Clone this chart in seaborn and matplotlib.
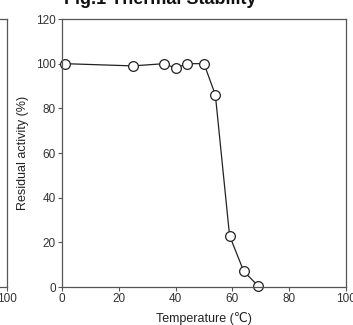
import numpy as np
import pandas as pd
import matplotlib
matplotlib.use("Agg")
import matplotlib.pyplot as plt
import seaborn as sns

# data
temperature = [1, 25, 36, 40, 44, 50, 54, 59, 64, 69]
activity = [100, 99, 100, 98, 100, 100, 86, 23, 7, 0.6]
x_ticks = [0, 20, 40, 60, 80, 100]
y_ticks = [0, 20, 40, 60, 80, 100, 120]

sns.set_style("ticks")
plt.rcParams["font.family"] = ["Liberation Sans", "DejaVu Sans"]

df = pd.DataFrame({"temperature": temperature, "activity": activity})

W, H = 353, 325
fig = plt.figure(figsize=(W / 100, H / 100), dpi=100)

# main panel
ax = fig.add_axes([62 / W, 38 / H, 284 / W, 268 / H])
# neighbouring panel, only its right edge shows
ax_left = fig.add_axes([(7 - 284) / W, 38 / H, 284 / W, 268 / H])

spine_col = "#555555"
for a in (ax, ax_left):
    a.set_xlim(0, 100)
    a.set_ylim(0, 120)
    a.set_xticks(x_ticks)
    a.set_yticks(y_ticks)
    a.tick_params(labelsize=8.5, length=3, width=0.8, color=spine_col,
                  labelcolor="#333333", pad=1.5)
    for s in a.spines.values():
        s.set_visible(True)
        s.set_color(spine_col)
        s.set_linewidth(0.9)

ax_left.set_yticklabels([])

sns.lineplot(data=df, x="temperature", y="activity", ax=ax, color="#222222",
             linewidth=0.9, marker="o", markersize=7, markerfacecolor="white",
             markeredgecolor="#222222", markeredgewidth=0.9, clip_on=False)

ax.set_xlabel("Temperature (\u2103)", fontsize=9, labelpad=5, color="#222222")
ax.set_ylabel("Residual activity (%)", fontsize=9, labelpad=5, color="#222222")

# title sits mostly above the crop, only its lower part shows
fig.text(160 / W, 1 - 4.5 / H, "Fig.1 Thermal Stability", ha="center",
         va="baseline", fontsize=13, fontweight="bold", color="#111111")

fig.savefig("out.png", dpi=100)
